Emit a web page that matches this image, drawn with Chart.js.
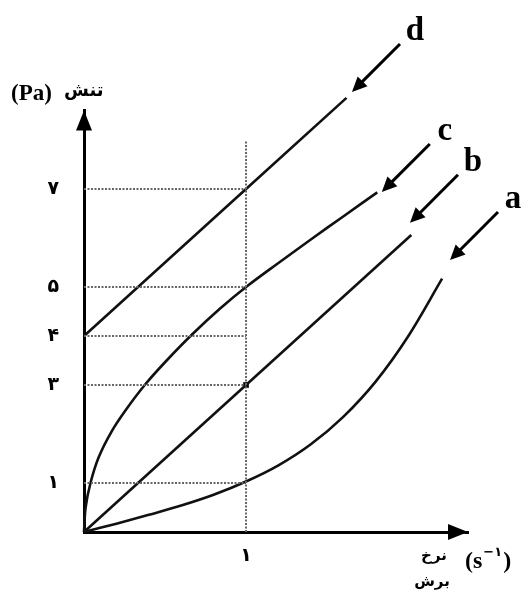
<!DOCTYPE html>
<html>
<head>
<meta charset="utf-8">
<script src="https://cdn.jsdelivr.net/npm/chart.js@4.4.1/dist/chart.umd.min.js"></script>
<style>
  html, body { margin: 0; padding: 0; background: #fff; }
  #wrap { width: 523px; height: 592px; }
</style>
</head>
<body>
<div id="wrap"><canvas id="flowChart" width="523" height="592"></canvas></div>
<script>
// curve a (shear thickening)
const aX = [0, 0.2, 0.4, 0.6, 0.8, 1, 1.2, 1.4, 1.6, 1.8, 2.0, 2.21];
const aY = [0, 0.17, 0.35, 0.54, 0.76, 1.03, 1.36, 1.79, 2.35, 3.07, 3.99, 5.17];
// curve b (newtonian)
const bX = [0, 1, 2.02];
const bY = [0, 3, 6.06];
// curve c (shear thinning)
const cX = [0, 0.01, 0.04, 0.09, 0.17, 0.26, 0.38, 0.51, 0.67, 0.84, 1, 1.2, 1.4, 1.6, 1.81];
const cY = [0, 0.5, 1, 1.52, 2.05, 2.5, 3.02, 3.5, 4.04, 4.56, 5, 5.49, 5.97, 6.44, 6.93];
// curve d (bingham)
const dX = [0, 1, 1.62];
const dY = [4, 7, 8.86];

const yTicks = [1, 3, 4, 5, 7];
const xTicks = [1];
const guideX = 1;
const guideTop = 8;

const faDigits = '۰۱۲۳۴۵۶۷۸۹';
function toFa(n) {
    return String(n).replace(/[0-9]/g, d => faDigits[d]);
}

function pts(xs, ys) {
    return xs.map((x, i) => ({ x: x, y: ys[i] }));
}

const curve = (xs, ys, tension) => ({
    data: pts(xs, ys),
    borderColor: '#111',
    borderWidth: 2.6,
    pointRadius: 0,
    tension: tension,
    clip: false
});

const guide = (data) => ({
    data: data,
    borderColor: '#666',
    borderWidth: 2,
    borderDash: [2, 1.5],
    pointRadius: 0,
    clip: false
});

const datasets = [];
// dotted guides
yTicks.forEach(v => datasets.push(guide([{ x: 0, y: v }, { x: guideX, y: v }])));
datasets.push(guide([{ x: guideX, y: 0 }, { x: guideX, y: guideTop }]));
datasets.push(curve(aX, aY, 0.35));
datasets.push(curve(bX, bY, 0));
datasets.push(curve(cX, cY, 0.35));
datasets.push(curve(dX, dY, 0));
// marked point on b
datasets.push({
    data: [{ x: bX[1], y: bY[1] }],
    showLine: false,
    pointStyle: 'rect',
    pointRadius: 4,
    pointBorderWidth: 0,
    pointBackgroundColor: '#000',
    pointBorderColor: '#000',
    clip: false
});

// arrow pointers to each curve, tips in data units
const pointers = [
    { label: 'd', x: 1.654, y: 8.98 },
    { label: 'c', x: 1.838, y: 6.94 },
    { label: 'b', x: 2.012, y: 6.31 },
    { label: 'a', x: 2.259, y: 5.55 }
];

function arrowHead(ctx, tx, ty, ang, len, half) {
    ctx.beginPath();
    ctx.moveTo(tx, ty);
    ctx.lineTo(tx - len * Math.cos(ang) + half * Math.sin(ang), ty - len * Math.sin(ang) - half * Math.cos(ang));
    ctx.lineTo(tx - len * Math.cos(ang) - half * Math.sin(ang), ty - len * Math.sin(ang) + half * Math.cos(ang));
    ctx.closePath();
    ctx.fill();
}

const decorations = {
    id: 'decorations',
    afterDraw(chart) {
        const ctx = chart.ctx;
        const xs = chart.scales.x, ys = chart.scales.y;
        const area = chart.chartArea;
        ctx.save();
        ctx.fillStyle = '#000';
        ctx.strokeStyle = '#000';

        // axis arrowheads
        arrowHead(ctx, area.left, area.top, -Math.PI / 2, 20, 8);
        arrowHead(ctx, area.right, area.bottom, 0, 20, 8);

        // pointers
        ctx.lineWidth = 3;
        pointers.forEach(p => {
            const tx = xs.getPixelForValue(p.x);
            const ty = ys.getPixelForValue(p.y);
            const sx = tx + 48, sy = ty - 48;
            const ang = Math.atan2(ty - sy, tx - sx);
            ctx.beginPath();
            ctx.moveTo(sx, sy);
            ctx.lineTo(tx - 10 * Math.cos(ang), ty - 10 * Math.sin(ang));
            ctx.stroke();
            arrowHead(ctx, tx, ty, ang, 15, 7);
            ctx.font = 'bold 33px "Liberation Serif"';
            ctx.textAlign = 'center';
            ctx.textBaseline = 'alphabetic';
            ctx.fillText(p.label, sx + 15, sy - 4);
        });

        // y axis title
        ctx.textBaseline = 'middle';
        ctx.font = 'bold 23px "Liberation Serif"';
        ctx.textAlign = 'left';
        ctx.fillText('(Pa)', 11, 94);
        ctx.font = 'bold 18px "DejaVu Sans"';
        ctx.fillText('تنش', 64, 91);

        // x axis title
        ctx.font = 'bold 15px "DejaVu Sans"';
        ctx.textAlign = 'center';
        ctx.fillText('نرخ', 434, 556);
        ctx.fillText('برش', 432, 582);
        ctx.textAlign = 'left';
        let cx = 465;
        ctx.font = 'bold 24px "Liberation Serif"';
        ctx.fillText('(s', cx, 562);
        cx += ctx.measureText('(s').width + 1;
        ctx.font = 'bold 13px "DejaVu Sans"';
        ctx.fillText('−۱', cx, 553);
        cx += ctx.measureText('−۱').width + 1;
        ctx.font = 'bold 24px "Liberation Serif"';
        ctx.fillText(')', cx, 562);
        ctx.restore();
    }
};

new Chart(document.getElementById('flowChart').getContext('2d'), {
    type: 'line',
    data: { datasets: datasets },
    options: {
        responsive: false,
        animation: false,
        events: [],
        layout: { padding: { top: 110.6, right: 55, left: 0, bottom: 0 } },
        plugins: { legend: { display: false }, tooltip: { enabled: false } },
        scales: {
            x: {
                type: 'linear',
                min: 0,
                max: 2.37,
                afterFit(scale) { scale.height = 60; },
                afterBuildTicks(scale) { scale.ticks = xTicks.map(v => ({ value: v })); },
                grid: { display: false, drawTicks: false },
                border: { display: true, color: '#000', width: 3 },
                ticks: {
                    padding: 13,
                    color: '#000',
                    font: { family: 'DejaVu Sans', size: 19, weight: 'bold' },
                    callback: v => toFa(v)
                }
            },
            y: {
                type: 'linear',
                min: 0,
                max: 8.6,
                afterFit(scale) { scale.width = 84; },
                afterBuildTicks(scale) { scale.ticks = yTicks.map(v => ({ value: v })); },
                grid: { display: false, drawTicks: false },
                border: { display: true, color: '#000', width: 3 },
                ticks: {
                    padding: 25,
                    crossAlign: 'center',
                    color: '#000',
                    font: { family: 'DejaVu Sans', size: 19, weight: 'bold' },
                    callback: v => toFa(v)
                }
            }
        }
    },
    plugins: [decorations]
});
</script>
</body>
</html>
